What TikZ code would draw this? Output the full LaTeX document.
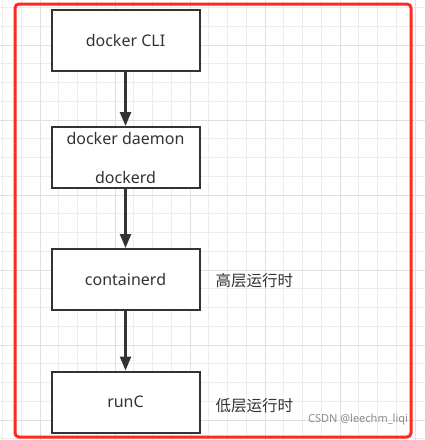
\documentclass[tikz,border=0pt]{standalone}
\usepackage{fontspec}
\setmainfont{Noto Sans}
\newfontfamily\cjk{Noto Sans CJK SC}
\usetikzlibrary{positioning,arrows.meta}
\definecolor{inkgray}{HTML}{333333}
\definecolor{framered}{HTML}{FF2A1F}
\definecolor{gridminor}{HTML}{EDEDED}
\definecolor{gridmajor}{HTML}{E0E0E0}

\begin{document}
\begin{tikzpicture}[x=1pt, y=-1pt,
    layer/.style={draw=inkgray, line width=2pt, minimum width=148pt,
      minimum height=61pt, inner sep=0pt, align=center, text=inkgray,
      font=\fontsize{16}{17}\selectfont},
    flow/.style={draw=inkgray, line width=2.5pt,
      -{Triangle[length=14pt,width=11pt]}},
    side/.style={text=inkgray, anchor=west, inner sep=0pt,
      font=\cjk\fontsize{15.5}{17}\selectfont}]
  \useasboundingbox (0,0) rectangle (425,440);
  \fill[white] (0,0) rectangle (425,440);
  % grid paper
  \foreach \i in {0,...,22}
    \draw[gridminor, line width=1pt] ({2.5+18.75*\i},0) -- ({2.5+18.75*\i},440);
  \foreach \j in {0,...,23}
    \draw[gridminor, line width=1pt] (0,{7.5+18.75*\j}) -- (425,{7.5+18.75*\j});
  \foreach \i in {2,6,...,22}
    \draw[gridmajor, line width=1pt] ({2.5+18.75*\i},0) -- ({2.5+18.75*\i},440);
  \foreach \j in {2,6,...,22}
    \draw[gridmajor, line width=1pt] (0,{7.5+18.75*\j}) -- (425,{7.5+18.75*\j});
  % the stack
  \node[layer, fill=white] (cli) at (125.5,40) {docker CLI};
  \node[layer, fill=white, below=54.5pt of cli] (daemon)
    {docker daemon\\[22pt]dockerd};
  \node[layer, fill=white, below=59pt of daemon] (containerd) {containerd};
  \node[layer, fill=white, below=59.5pt of containerd] (runc) {runC};
  \draw[flow] (cli) -- (daemon);
  \draw[flow] (daemon) -- (containerd);
  \draw[flow] (containerd) -- (runc);
  \node[side, right=15pt of containerd, yshift=-1.5pt] (high) {高层运行时};
  \node[side, right=15pt of runc, yshift=-4pt] (low) {低层运行时};
  % outline and mark
  \draw[framered, line width=3pt, rounded corners=4pt] (15,4) rectangle (411,437);
  \node[text=black!45, font=\fontsize{11}{12}\selectfont, inner sep=0pt]
    (mark) at (358,420) {CSDN @leechm\_liqi};
\end{tikzpicture}
\end{document}
